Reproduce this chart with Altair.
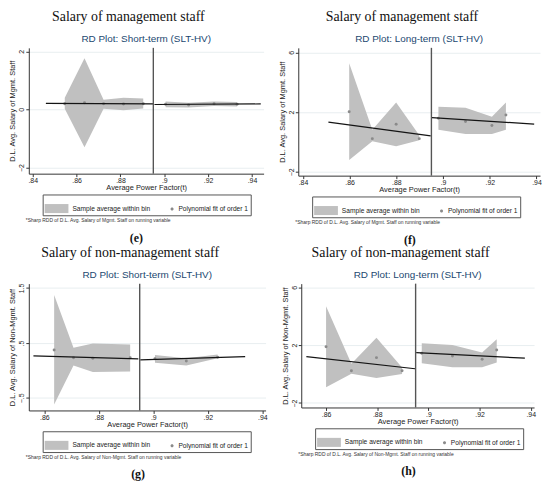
import altair as alt
import pandas as pd

CUT = 0.895
LAB_A = "Sample average within bin"
LAB_B = "Polynomial fit of order 1"
XTITLE = "Average Power Factor(t)"

# ---------------- panel (e) ----------------
e_bin_x = [0.8546, 0.8636, 0.8723, 0.8814, 0.8904, 0.9006, 0.9111, 0.9227, 0.9332]
e_side = ["L", "L", "L", "L", "L", "R", "R", "R", "R"]
e_mean = [0.20, 0.23, 0.20, 0.19, 0.20, 0.18, 0.15, 0.20, 0.18]
e_hi = [0.40, 1.76, 0.33, 0.40, 0.38, 0.27, 0.23, 0.27, 0.26]
e_lo = [0.02, -1.30, 0.02, -0.03, 0.03, 0.08, 0.07, 0.12, 0.10]
e_fit_x = [0.846, 0.895, 0.8955, 0.944]
e_fit_y = [0.21, 0.19, 0.17, 0.19]
e_fit_side = ["L", "L", "R", "R"]
e_xticks = [0.84, 0.86, 0.88, 0.90, 0.92, 0.94]
e_yticks = [-2, -1, 0, 1, 2]

# ---------------- panel (f) ----------------
f_bin_x = [0.8598, 0.8697, 0.8799, 0.8898, 0.8980, 0.9096, 0.9209, 0.9269]
f_side = ["L", "L", "L", "L", "R", "R", "R", "R"]
f_mean = [2.02, 0.22, 1.19, 0.22, 1.58, 1.36, 1.10, 1.80]
f_hi = [5.27, 0.81, 2.64, 0.44, 2.35, 2.29, 1.69, 2.64]
f_lo = [-1.21, 0.04, -0.29, 0.11, 0.81, 0.53, 0.53, 0.81]
f_fit_x = [0.8509, 0.8947, 0.8952, 0.939]
f_fit_y = [1.32, 0.40, 1.63, 1.19]
f_fit_side = ["L", "L", "R", "R"]
f_xticks = [0.84, 0.86, 0.88, 0.90, 0.92, 0.94]
f_yticks = [-2, 0, 2, 4, 6]

# ---------------- panel (g) ----------------
g_bin_x = [0.8636, 0.8707, 0.8778, 0.8915, 0.9006, 0.9121, 0.9236]
g_side = ["L", "L", "L", "L", "R", "R", "R"]
g_mean = [0.37, 0.23, 0.22, 0.23, 0.21, 0.17, 0.24]
g_hi = [1.375, 0.41, 0.49, 0.47, 0.28, 0.22, 0.29]
g_lo = [-0.62, 0.09, -0.03, -0.02, 0.14, 0.09, 0.22]
g_fit_x = [0.856, 0.8945, 0.8952, 0.9337]
g_fit_y = [0.264, 0.21, 0.19, 0.25]
g_fit_side = ["L", "L", "R", "R"]
g_xticks = [0.86, 0.88, 0.90, 0.92, 0.94]
g_yticks = [-0.5, 0, 0.5, 1, 1.5]

# ---------------- panel (h) ----------------
h_bin_x = [0.8600, 0.8699, 0.8797, 0.8897, 0.8974, 0.9094, 0.9210, 0.9267]
h_side = ["L", "L", "L", "L", "R", "R", "R", "R"]
h_mean = [1.90, 0.23, 1.14, 0.23, 1.44, 1.26, 1.03, 1.67]
h_hi = [4.69, 0.71, 2.51, 0.46, 2.13, 2.01, 1.49, 2.42]
h_lo = [-0.91, 0.02, -0.27, 0.00, 0.75, 0.48, 0.48, 0.80]
h_fit_x = [0.8523, 0.8948, 0.8952, 0.9377]
h_fit_y = [1.21, 0.37, 1.49, 1.10]
h_fit_side = ["L", "L", "R", "R"]
h_xticks = [0.86, 0.88, 0.90, 0.92, 0.94]
h_yticks = [-2, 0, 2, 4, 6]

RECT = "M-1,-0.38H1V0.38H-1Z"
DOT = "M0.93,0A0.13,0.13,0,1,1,0.67,0A0.13,0.13,0,1,1,0.93,0Z"

SANS = "Liberation Sans"
SERIF = "Liberation Serif"


def indep(c):
    return c.resolve_scale(color="independent", shape="independent").resolve_legend(
        color="independent", shape="independent")


def panel(bx, side, mean, hi, lo, fx, fy, fside, xticks, yticks,
          xdom, ydom, W, H, heading, sub, ytitle, foot, tag):
    bins = pd.DataFrame({"x": bx, "side": side, "m": mean, "hi": hi, "lo": lo})
    fit = pd.DataFrame({"x": fx, "y": fy, "side": fside})
    cut = pd.DataFrame({"x": [CUT]})

    xs = alt.Scale(domain=xdom, nice=False, zero=False)
    ys = alt.Scale(domain=ydom, nice=False, zero=False)
    xax = alt.Axis(values=xticks, title=XTITLE, grid=False, labelOverlap=False,
                   labelPadding=0, titlePadding=0,
                   labelExpr="replace(format(datum.value, '.2~f'), '0.', '.')")
    yax = alt.Axis(values=yticks, title=ytitle, grid=True, labelAngle=270,
                   labelOverlap=False, labelPadding=1, titlePadding=1,
                   labelExpr="replace(format(datum.value, '~g'), '0.', '.')")

    band = alt.Chart(bins).mark_area(color="#c0c0c0", opacity=1).encode(
        x=alt.X("x:Q", scale=xs, axis=xax),
        y=alt.Y("hi:Q", scale=ys, axis=yax),
        y2="lo:Q",
        detail="side:N",
    )
    pts = alt.Chart(bins).mark_circle(size=9, color="#8a8a8a", opacity=1).encode(
        x="x:Q", y="m:Q")
    line = alt.Chart(fit).mark_line(color="#141414", strokeWidth=1.2).encode(
        x="x:Q", y="y:Q", detail="side:N")
    rule = alt.Chart(cut).mark_rule(color="#555555", strokeWidth=1.4).encode(x="x:Q")

    leg = alt.Legend(orient="none", legendX=14, legendY=H + 21,
                     direction="horizontal", columns=2, title=None,
                     strokeColor="#555555", padding=2, fillColor="white",
                     labelFontSize=6.7, labelFont=SANS, labelColor="#222222",
                     symbolSize=576, columnPadding=0, labelOffset=4,
                     symbolStrokeWidth=0, symbolOpacity=1)
    legend_layer = alt.Chart(bins).transform_filter("false").mark_point(
        filled=True, opacity=1, size=576).encode(
        x="x:Q", y="m:Q",
        color=alt.Color("s:N", scale=alt.Scale(domain=[LAB_A, LAB_B],
                                               range=["#c0c0c0", "#8a8a8a"]),
                        legend=leg),
        shape=alt.Shape("s:N", scale=alt.Scale(domain=[LAB_A, LAB_B],
                                               range=[RECT, DOT]),
                        legend=leg),
    )

    inner = alt.layer(band, pts, line, rule, legend_layer).properties(
        width=W, height=H,
        title=alt.TitleParams(sub, font=SANS, fontSize=10, fontWeight="normal",
                              color="#1a476f", anchor="middle", offset=3))
    w1 = indep(alt.vconcat(inner, title=alt.TitleParams(
        foot, orient="bottom", anchor="start", font=SANS, fontSize=5,
        fontWeight="normal", color="#333333", offset=2, dx=17)))
    w2 = indep(alt.vconcat(w1, title=alt.TitleParams(
        heading, font=SERIF, fontSize=14, fontWeight="normal", color="#111111",
        anchor="middle", offset=10, dx=-8)))
    w3 = indep(alt.vconcat(w2, title=alt.TitleParams(
        tag, orient="bottom", font=SERIF, fontSize=12, fontWeight="bold",
        color="#111111", anchor="middle", offset=10, dx=0)))
    return w3


pe = panel(e_bin_x, e_side, e_mean, e_hi, e_lo, e_fit_x, e_fit_y, e_fit_side,
           e_xticks, e_yticks, [0.8382, 0.9453], [-2.21, 2.12], 237, 127,
           "Salary of management staff", "RD Plot: Short-term (SLT-HV)",
           "D.L. Avg. Salary of Mgmt. Staff",
           "*Sharp RDD of D.L. Avg. Salary of Mgmt. Staff on running variable", "(e)")
pf = panel(f_bin_x, f_side, f_mean, f_hi, f_lo, f_fit_x, f_fit_y, f_fit_side,
           f_xticks, f_yticks, [0.838, 0.9415], [-2.26, 6.3], 244, 129,
           "Salary of management staff", "RD Plot: Long-term (SLT-HV)",
           "D.L. Avg. Salary of Mgmt. Staff",
           "*Sharp RDD of D.L. Avg. Salary of Mgmt. Staff on running variable", "(f)")
pg = panel(g_bin_x, g_side, g_mean, g_hi, g_lo, g_fit_x, g_fit_y, g_fit_side,
           g_xticks, g_yticks, [0.8543, 0.9412], [-0.73, 1.58], 239, 128,
           "Salary of non-management staff", "RD Plot: Short-term (SLT-HV)",
           "D.L. Avg. Salary of Non-Mgmt. Staff",
           "*Sharp RDD of D.L. Avg. Salary of Non-Mgmt. Staff on running variable", "(g)")
ph = panel(h_bin_x, h_side, h_mean, h_hi, h_lo, h_fit_x, h_fit_y, h_fit_side,
           h_xticks, h_yticks, [0.8503, 0.9413], [-2.31, 6.26], 235, 125,
           "Salary of non-management staff", "RD Plot: Long-term (SLT-HV)",
           "D.L. Avg. Salary of Non-Mgmt. Staff",
           "*Sharp RDD of D.L. Avg. Salary of Non-Mgmt. Staff on running variable", "(h)")

row1 = indep(alt.hconcat(pe, pf, spacing=15))
row2 = indep(alt.hconcat(pg, ph, spacing=13))

chart = indep(alt.vconcat(row1, row2, spacing=0)).properties(padding=0).configure_view(
    stroke=None).configure_axis(
    domainColor="#333333", tickColor="#333333", labelColor="#222222",
    labelFont=SANS, titleFont=SANS, labelFontSize=7, titleFontSize=7.5,
    titleFontWeight="normal", titleColor="#222222", tickSize=3,
    gridColor="#e8eef0", labelFlush=False,
)

chart.save("out.html", embed_options={"renderer": "svg", "actions": False})
